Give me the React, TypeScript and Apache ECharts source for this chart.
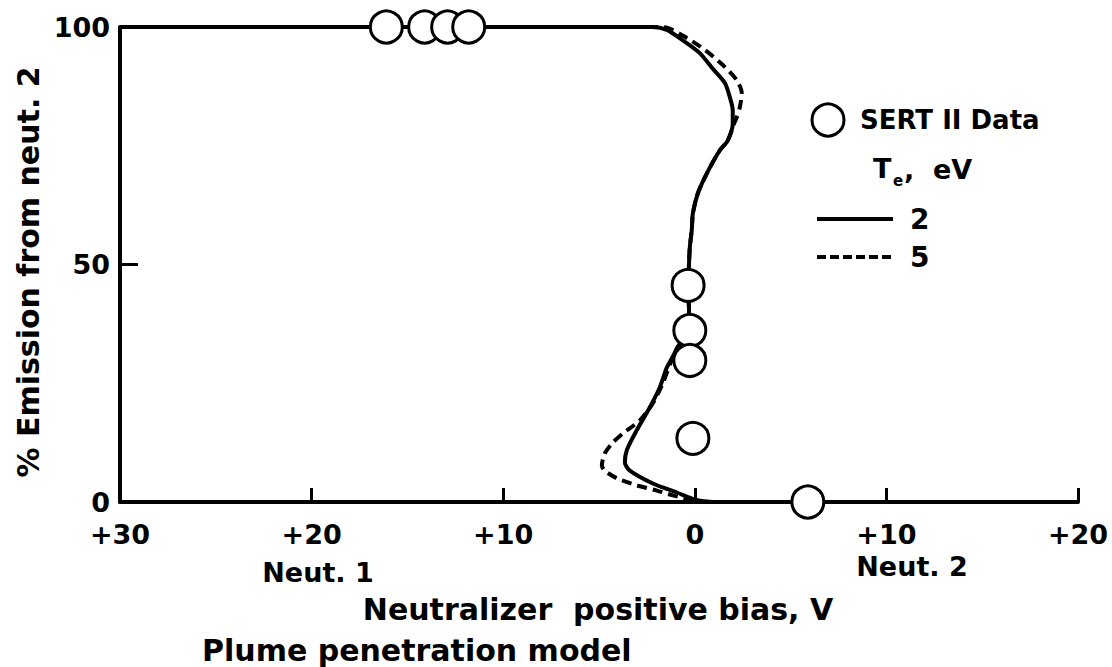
import React, { useEffect, useRef } from 'react';
import * as echarts from 'echarts';

const FONT = '"DejaVu Sans", "Liberation Sans", sans-serif';

// Axis ticks (left side = Neut. 1 bias, right side = Neut. 2 bias)
const xTickValues = [-30, -20, -10, 0, 10, 20];
const xTickLabels = ['+30', '+20', '+10', '0', '+10', '+20'];
const yTickValues = [0, 50, 100];

// Plume penetration model, Te = 2 eV (solid)
const te2Bias = [-30, -2.2, -1.46, -0.63, 0.26, 0.94, 1.57, 1.83, 1.98, 1.98, 1.72, 1.3, 0.63, 0.16, -0.1, -0.16, -0.26, -0.31, -0.35, -0.3, -0.3, -0.89, -1.2, -1.46, -1.83, -2.35, -3.03, -3.55, -3.65, -3.39, -2.19, -0.94, 0, 0.94];
const te2Emission = [100, 100, 99.4, 97.2, 94.5, 91.2, 88.2, 85.2, 82.5, 79.7, 76.1, 74, 69.2, 65, 60.8, 57.2, 53.6, 49.4, 45.6, 40, 36.1, 32.6, 30.2, 28.3, 24.1, 19.9, 15.1, 10.9, 8.3, 6.6, 3.9, 2.0, 0.5, 0];

// Plume penetration model, Te = 5 eV (dashed)
const te5Bias = [-30, -2.2, -1.41, -0.42, 0.52, 1.46, 2.19, 2.45, 2.35, 2.19, 1.98, 1.72, 1.3, 0.63, 0.16, -0.1, -0.16, -0.26, -0.31, -0.35, -0.3, -0.3, -0.9, -1.25, -1.67, -2.19, -2.87, -3.76, -4.28, -4.7, -4.85, -4.7, -4.07, -3.03, -1.98, -1.15, -0.42, 0.3];
const te5Emission = [100, 100, 99.8, 97.7, 95.2, 92.0, 88.8, 86.1, 83.1, 81.0, 79.0, 76.1, 74, 69.2, 65, 60.8, 57.2, 53.6, 49.4, 45.6, 40, 36.1, 32.6, 29.5, 25.0, 20.8, 17.2, 14.4, 12.5, 10.2, 7.7, 6.6, 5.0, 3.5, 2.4, 1.4, 0.7, 0.1];

// SERT II flight data
const sertBias = [-16.1, -14.1, -12.9, -11.8, -0.35, -0.26, -0.26, -0.1, 5.9];
const sertEmission = [100, 100, 100, 100, 45.6, 36.1, 29.8, 13.4, 0];

const zip = (a: number[], b: number[]) => a.map((v, i) => [v, b[i]]);

export default function App() {
  const ref = useRef<HTMLDivElement>(null);

  useEffect(() => {
    document.body.style.margin = '0';
    if (!ref.current) return;
    const chart = echarts.init(ref.current, null, { renderer: 'svg' });
    const txt = (text: string, x: number, y: number, size: number, align = 'left', extra: any = {}) => ({
      type: 'text',
      x,
      y,
      ...extra,
      style: {
        text,
        fontSize: size,
        fontWeight: 'bold',
        fontFamily: FONT,
        fill: '#000',
        align,
        verticalAlign: 'middle',
      },
    });
    const option: any = {
      animation: false,
      backgroundColor: '#fff',
      grid: { left: 120, right: 34, top: 27, bottom: 165, containLabel: false, outerBoundsMode: 'none' },
      xAxis: {
        type: 'value',
        min: xTickValues[0],
        max: xTickValues[xTickValues.length - 1],
        interval: 10,
        splitLine: { show: false },
        axisLine: { show: true, onZero: false, lineStyle: { color: '#000', width: 4 } },
        axisTick: { show: true, inside: true, length: 14, lineStyle: { color: '#000', width: 3 } },
        axisLabel: {
          margin: 20,
          color: '#000',
          fontSize: 27,
          lineHeight: 24,
          fontWeight: 'bold',
          fontFamily: FONT,
          formatter: (v: number) => {
            const i = xTickValues.indexOf(v);
            return i >= 0 ? xTickLabels[i] : '';
          },
        },
      },
      yAxis: {
        type: 'value',
        min: yTickValues[0],
        max: yTickValues[yTickValues.length - 1],
        interval: 50,
        splitLine: { show: false },
        axisLine: { show: true, onZero: false, lineStyle: { color: '#000', width: 4 } },
        axisTick: { show: true, inside: true, length: 18, lineStyle: { color: '#000', width: 3 } },
        axisLabel: { margin: 10, color: '#000', fontSize: 27, lineHeight: 24, fontWeight: 'bold', fontFamily: FONT },
      },
      series: [
        {
          name: '5',
          type: 'line',
          data: zip(te5Bias, te5Emission),
          showSymbol: false,
          smooth: 0.25,
          z: 2,
          lineStyle: { color: '#000', width: 4, type: [10, 6] },
        },
        {
          name: '2',
          type: 'line',
          data: zip(te2Bias, te2Emission),
          showSymbol: false,
          smooth: 0.25,
          z: 3,
          lineStyle: { color: '#000', width: 4 },
        },
        {
          name: 'SERT II Data',
          type: 'scatter',
          data: zip(sertBias, sertEmission),
          symbol: 'circle',
          symbolSize: 32,
          z: 4,
          itemStyle: { color: '#fff', borderColor: '#000', borderWidth: 3, opacity: 1 },
        },
      ],
      graphic: [
        txt('% Emission from neut. 2', 28, 272, 30, 'center', { rotation: Math.PI / 2 }),
        txt('Neut. 1', 318, 572, 27, 'center'),
        txt('Neut. 2', 912, 566, 27, 'center'),
        txt('Neutralizer  positive bias, V', 598, 609, 30, 'center'),
        txt('Plume penetration model', 202, 650, 30, 'left'),
        {
          type: 'circle',
          shape: { cx: 828, cy: 120, r: 16 },
          style: { fill: '#fff', stroke: '#000', lineWidth: 3 },
        },
        txt('SERT II Data', 860, 120, 26, 'left'),
        txt('T', 873, 168, 27, 'left'),
        txt('e', 893, 181, 15, 'left'),
        txt(',  eV', 904, 169, 27, 'left'),
        {
          type: 'line',
          shape: { x1: 817, y1: 219, x2: 893, y2: 219 },
          style: { stroke: '#000', lineWidth: 4 },
        },
        txt('2', 910, 219, 28, 'left'),
        {
          type: 'line',
          shape: { x1: 817, y1: 257, x2: 893, y2: 257 },
          style: { stroke: '#000', lineWidth: 4, lineDash: [9, 4] },
        },
        txt('5', 910, 257, 28, 'left'),
      ],
    };
    chart.setOption(option);
    return () => chart.dispose();
  }, []);

  return <div ref={ref} style={{ width: 1112, height: 667 }} />;
}
